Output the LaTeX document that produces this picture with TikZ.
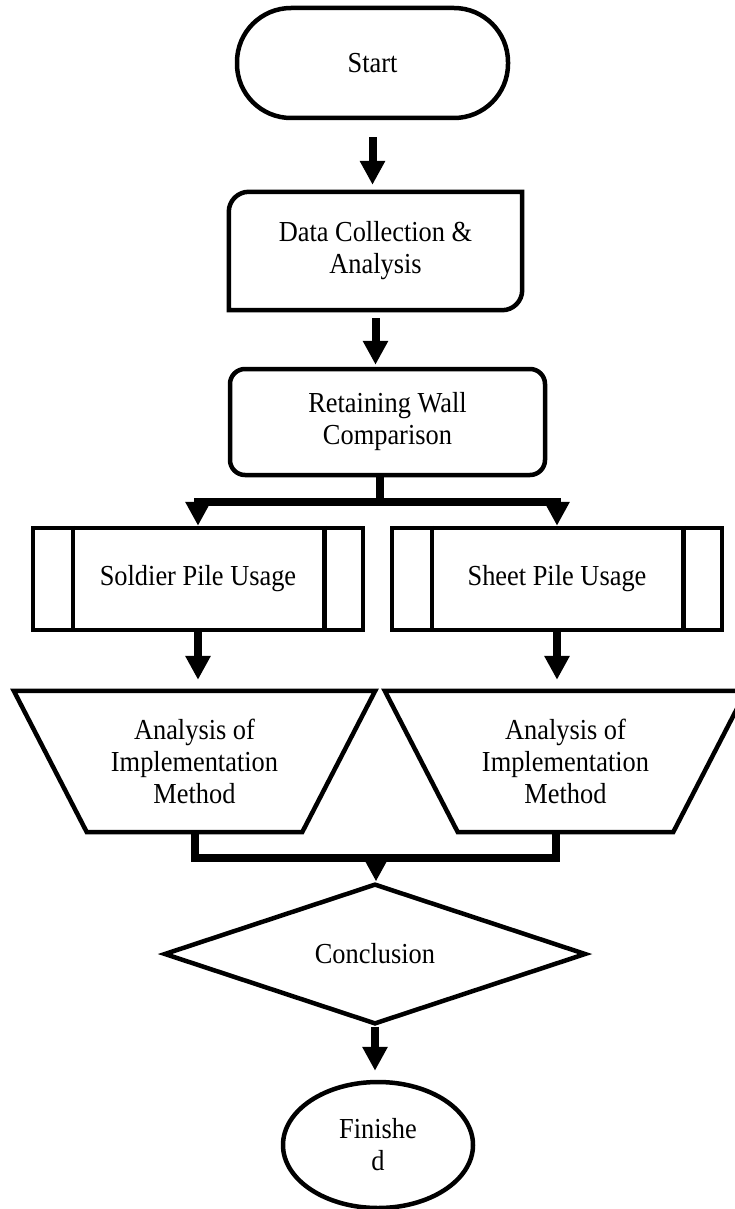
\documentclass[tikz,border=0pt]{standalone}
\usepackage{fontspec}
\setmainfont{Liberation Serif}[FakeStretch=0.91]
\usetikzlibrary{shapes.geometric}
\usetikzlibrary{arrows.meta}

\begin{document}
\begin{tikzpicture}[x=1pt,y=-1pt,
    every node/.style={font=\fontsize{29}{32}\selectfont, align=center, inner sep=0pt},
    box/.style={draw, line width=4.5pt},
    flow/.style={line width=8pt, -{Triangle[width=24pt,length=24pt]}},
    link/.style={line width=8pt}]
    \useasboundingbox (0,0) rectangle (734,1209);
    % boxes
    \node[box, rounded corners=54pt, minimum width=271pt, minimum height=110pt] (start) at (372.5,63) {Start};
    \node[minimum width=293pt, minimum height=118pt] (data) at (375.5,251) {Data Collection \&\\Analysis};
    \draw[line width=4.5pt] (data.south west) -- ([yshift=-20pt]data.north west) arc[start angle=180,end angle=90,radius=20pt]
        -- (data.north east) -- ([yshift=20pt]data.south east) arc[start angle=0,end angle=-90,radius=20pt] -- cycle;
    \node[box, rounded corners=15pt, minimum width=315pt, minimum height=106pt] (wall) at (387.5,422) {Retaining Wall\\Comparison};
    \node[box, minimum width=330pt, minimum height=102pt] (soldier) at (198,579) {Soldier Pile Usage};
    \node[box, minimum width=330pt, minimum height=102pt] (sheet) at (557,579) {Sheet Pile Usage};
    \foreach \b in {soldier,sheet} {
        \draw[line width=4.5pt] ([xshift=42pt]\b.north west) -- ([xshift=42pt]\b.south west);
        \draw[line width=4.5pt] ([xshift=-41pt]\b.north east) -- ([xshift=-41pt]\b.south east);
    }
    \node[minimum width=361pt, minimum height=141pt] (anl) at (194.5,761.5) {Analysis of\\Implementation\\Method};
    \node[minimum width=361pt, minimum height=141pt] (anr) at (565.5,761.5) {Analysis of\\Implementation\\Method};
    \foreach \t in {anl,anr}
        \draw[box] (\t.north west) -- (\t.north east) -- ([xshift=-73pt]\t.south east) -- ([xshift=73pt]\t.south west) -- cycle;
    \node[draw, diamond, line width=4.5pt, minimum width=422pt, minimum height=137pt] (concl) at (375,954) {Conclusion};
    \node[draw, ellipse, line width=4.5pt, minimum width=190pt, minimum height=126pt] (fin) at (378,1145) {Finishe\\d};
    % connectors
    \coordinate (split) at (380,502);
    \coordinate (merge) at (376,858);
    \draw[flow, shorten <=17pt, shorten >=7pt] (start.south) -- (start.south |- data.north);
    \draw[flow, shorten <=8pt, shorten >=2pt] (data.south) -- (data.south |- wall.north);
    \draw[link] (split |- wall.south) -- (split);
    \draw[flow] (split) -| (soldier.north);
    \draw[flow] (split) -| (sheet.north);
    \draw[flow, shorten >=11pt] (soldier.south) -- (soldier.south |- anl.north);
    \draw[flow, shorten >=11pt] (sheet.south) -- (sheet.south |- anr.north);
    \draw[link] (anl.south) |- (merge) -| ([xshift=-10pt]anr.south);
    \draw[flow] (merge) -- (merge |- concl.north);
    \draw[flow, shorten >=9pt] (concl.south) -- (concl.south |- fin.north);
\end{tikzpicture}
\end{document}
